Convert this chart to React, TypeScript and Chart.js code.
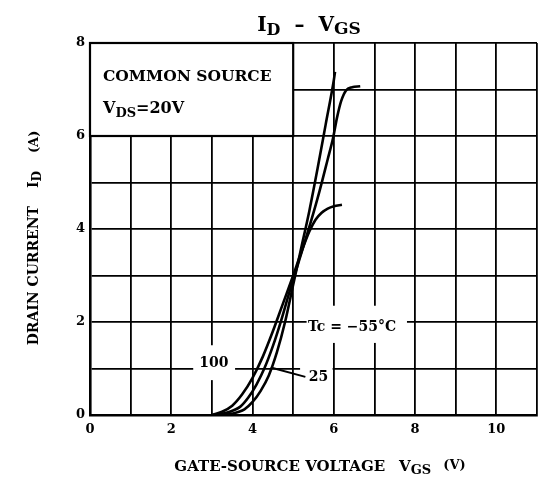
import { useEffect, useRef } from "react";
import { Chart, registerables } from "chart.js";

Chart.register(...registerables);

// ---- data ----
const seriesNames = ["Tc = −55°C", "25", "100"];

const vgsN55 = [3.1, 3.5, 3.8, 4.0, 4.2, 4.4, 4.6, 4.8, 5.0, 5.2, 5.4, 5.6, 5.8, 6.0, 6.03];
const idN55 = [0, 0.03, 0.12, 0.28, 0.52, 0.85, 1.35, 2.0, 2.8, 3.6, 4.4, 5.3, 6.25, 7.2, 7.38];

const vgs25 = [3.05, 3.4, 3.7, 3.9, 4.1, 4.3, 4.5, 4.7, 4.9, 5.05, 5.25, 5.45, 5.65, 5.85, 5.98, 6.08, 6.18, 6.3, 6.45, 6.65];
const id25 = [0, 0.06, 0.18, 0.38, 0.66, 1.02, 1.48, 2.02, 2.62, 3.05, 3.62, 4.2, 4.82, 5.5, 5.95, 6.4, 6.75, 6.98, 7.05, 7.07];

const vgs100 = [3.0, 3.25, 3.5, 3.75, 4.0, 4.25, 4.5, 4.75, 5.0, 5.2, 5.4, 5.55, 5.7, 5.85, 6.0, 6.2];
const id100 = [0, 0.07, 0.2, 0.45, 0.8, 1.25, 1.8, 2.4, 3.0, 3.5, 3.95, 4.2, 4.35, 4.44, 4.49, 4.52];

const xTickLabels = ["0", "2", "4", "6", "8", "10"];
const yTickLabels = ["0", "2", "4", "6", "8"];

const FONT = '"DejaVu Serif", "Liberation Serif", serif';

type Part = { t: string; size: number; dy?: number; gap?: number };

function richWidth(ctx: CanvasRenderingContext2D, parts: Part[]) {
  let w = 0;
  for (const p of parts) {
    ctx.font = `bold ${p.size}px ${FONT}`;
    w += ctx.measureText(p.t).width + (p.gap || 0);
  }
  return w;
}

function drawRich(ctx: CanvasRenderingContext2D, parts: Part[], x: number, y: number, align: "left" | "center") {
  const total = richWidth(ctx, parts);
  let cx = align === "center" ? x - total / 2 : x;
  ctx.textAlign = "left";
  ctx.textBaseline = "alphabetic";
  ctx.fillStyle = "#000";
  for (const p of parts) {
    ctx.font = `bold ${p.size}px ${FONT}`;
    ctx.fillText(p.t, cx, y + (p.dy || 0));
    cx += ctx.measureText(p.t).width + (p.gap || 0);
  }
}

// annotation labels placed in data coordinates
const notes = [
  { text: seriesNames[2], x: 3.05, y: 1.12, box: [2.54, 3.57, 0.75, 1.5] },
  { text: seriesNames[1], x: 5.62, y: 0.8, box: [5.17, 5.97, 0.45, 1.2] },
  { text: seriesNames[0], x: 6.45, y: 1.89, box: [5.33, 7.8, 1.55, 2.35] },
];

const decorPlugin = {
  id: "decor",
  beforeDraw(chart: any) {
    const ctx = chart.ctx;
    ctx.save();
    ctx.fillStyle = "#fff";
    ctx.fillRect(0, 0, chart.width, chart.height);
    ctx.restore();
  },
  beforeDatasetsDraw(chart: any) {
    const ctx = chart.ctx as CanvasRenderingContext2D;
    const xs = chart.scales.x;
    const ys = chart.scales.y;
    ctx.save();
    ctx.fillStyle = "#fff";
    for (const n of notes) {
      const x0 = xs.getPixelForValue(n.box[0]);
      const x1 = xs.getPixelForValue(n.box[1]);
      const y0 = ys.getPixelForValue(n.box[3]);
      const y1 = ys.getPixelForValue(n.box[2]);
      ctx.fillRect(x0, y0, x1 - x0, y1 - y0);
    }
    const bx0 = xs.getPixelForValue(0);
    const bx1 = xs.getPixelForValue(5);
    const by0 = ys.getPixelForValue(8);
    const by1 = ys.getPixelForValue(6);
    ctx.fillRect(bx0, by0, bx1 - bx0, by1 - by0);
    ctx.strokeStyle = "#000";
    ctx.lineWidth = 2.2;
    ctx.strokeRect(bx0, by0, bx1 - bx0, by1 - by0);
    ctx.restore();
  },
  afterDatasetsDraw(chart: any) {
    const ctx = chart.ctx as CanvasRenderingContext2D;
    const xs = chart.scales.x;
    const ys = chart.scales.y;
    ctx.save();
    for (const n of notes) {
      ctx.font = `bold 14px ${FONT}`;
      ctx.fillStyle = "#000";
      ctx.textAlign = "center";
      ctx.textBaseline = "middle";
      ctx.fillText(n.text, xs.getPixelForValue(n.x), ys.getPixelForValue(n.y));
    }
    ctx.strokeStyle = "#000";
    ctx.lineWidth = 2;
    ctx.beginPath();
    ctx.moveTo(xs.getPixelForValue(4.45), ys.getPixelForValue(1.02));
    ctx.lineTo(xs.getPixelForValue(5.3), ys.getPixelForValue(0.82));
    ctx.stroke();

    const left = xs.getPixelForValue(0) + 13;
    ctx.font = `bold 15.5px ${FONT}`;
    ctx.textAlign = "left";
    ctx.textBaseline = "alphabetic";
    ctx.fillText("COMMON SOURCE", left, 81);
    drawRich(
      ctx,
      [
        { t: "V", size: 16 },
        { t: "DS", size: 13, dy: 4 },
        { t: "=20V", size: 16 },
      ],
      left,
      113,
      "left"
    );

    drawRich(
      ctx,
      [
        { t: "I", size: 20 },
        { t: "D", size: 16, dy: 4, gap: 14 },
        { t: "–", size: 20, gap: 14 },
        { t: "V", size: 20 },
        { t: "GS", size: 17, dy: 3 },
      ],
      309,
      31,
      "center"
    );

    drawRich(
      ctx,
      [
        { t: "GATE-SOURCE VOLTAGE", size: 15, gap: 14 },
        { t: "V", size: 15 },
        { t: "GS", size: 13, dy: 3, gap: 12 },
        { t: "(V)", size: 13, dy: -2 },
      ],
      320,
      471,
      "center"
    );

    ctx.translate(33, 238);
    ctx.rotate(-Math.PI / 2);
    drawRich(
      ctx,
      [
        { t: "DRAIN CURRENT", size: 14, gap: 18 },
        { t: "I", size: 14 },
        { t: "D", size: 12, dy: 3, gap: 18 },
        { t: "(A)", size: 13 },
      ],
      0,
      5,
      "center"
    );
    ctx.restore();
  },
};

function makeSeries(xs: number[], ys: number[]) {
  return xs.map((x, i) => ({ x, y: ys[i] }));
}

export default function App() {
  const ref = useRef<HTMLCanvasElement | null>(null);

  useEffect(() => {
    if (!ref.current) return;
    const lineStyle = {
      showLine: true,
      borderColor: "#000",
      backgroundColor: "#000",
      borderWidth: 2.6,
      pointRadius: 0,
      cubicInterpolationMode: "monotone" as const,
      fill: false,
    };
    const tickFont = { family: FONT, size: 13, weight: "bold" as const };
    const chart = new Chart(ref.current, {
      type: "scatter",
      data: {
        datasets: [
          { label: seriesNames[0], data: makeSeries(vgsN55, idN55), ...lineStyle },
          { label: seriesNames[1], data: makeSeries(vgs25, id25), ...lineStyle },
          { label: seriesNames[2], data: makeSeries(vgs100, id100), ...lineStyle },
        ],
      },
      options: {
        animation: false,
        responsive: false,
        maintainAspectRatio: false,
        layout: { padding: { top: 43, right: 7, left: 0, bottom: 0 } },
        plugins: {
          legend: { display: false },
          title: { display: false },
          tooltip: { enabled: false },
        },
        scales: {
          x: {
            type: "linear",
            min: 0,
            max: 11,
            afterFit: (s: any) => {
              s.height = 62;
            },
            ticks: {
              stepSize: 1,
              autoSkip: false,
              maxRotation: 0,
              color: "#000",
              font: tickFont,
              padding: 7,
              callback: (v: any) => (xTickLabels.includes(String(v)) ? String(v) : ""),
            },
            grid: { color: "#000", lineWidth: 1.8, drawTicks: false },
            border: { color: "#000", width: 2.6 },
          },
          y: {
            type: "linear",
            min: 0,
            max: 8,
            afterFit: (s: any) => {
              s.width = 90;
            },
            ticks: {
              stepSize: 1,
              autoSkip: false,
              color: "#000",
              font: tickFont,
              padding: 5,
              callback: (v: any) => (yTickLabels.includes(String(v)) ? String(v) : ""),
            },
            grid: { color: "#000", lineWidth: 1.8, drawTicks: false },
            border: { color: "#000", width: 2.6 },
          },
        },
      },
      plugins: [decorPlugin],
    });
    return () => chart.destroy();
  }, []);

  return (
    <div style={{ position: "fixed", left: 0, top: 0, width: 544, height: 477, background: "#fff" }}>
      <canvas ref={ref} width={544} height={477} style={{ display: "block" }} />
    </div>
  );
}
